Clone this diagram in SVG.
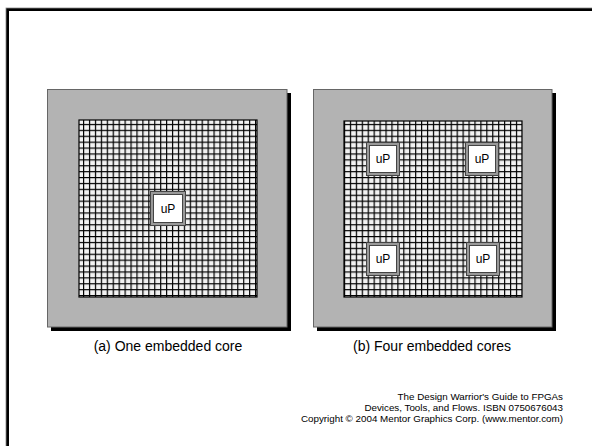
<svg xmlns="http://www.w3.org/2000/svg" width="592" height="446" viewBox="0 0 592 446">
<style>
.cap{font-family:"Liberation Sans",Arial,sans-serif;font-size:14px;fill:#000;text-anchor:middle}
.foot{font-family:"Liberation Sans",Arial,sans-serif;font-size:9.8px;fill:#000;text-anchor:end}
.up{font-family:"Liberation Sans",Arial,sans-serif;font-size:12px;fill:#000;text-anchor:middle}
.board{fill:#b3b3b3;stroke:#666;stroke-width:1}
.shadow{fill:#000}
.grid{fill:url(#cells);stroke:#000;stroke-width:1.2}
.coreo{fill:#999;stroke:#444;stroke-width:1}
.corei{fill:#fff;stroke:#444;stroke-width:1}
</style>
<defs>
<pattern id="cells" x="0" y="0" width="5.93" height="5.9" patternUnits="userSpaceOnUse">
<rect width="6" height="6" fill="#000"/>
<rect x="1.2" y="1.2" width="4.73" height="4.7" fill="#f2f2f2"/>
</pattern>
</defs>
<rect width="592" height="446" fill="#fff"/>
<rect x="7.5" y="9.5" width="600" height="450" fill="none" stroke="#000" stroke-width="3"/>
<rect x="6" y="8" width="600" height="450" fill="none" stroke="#888" stroke-width="0.8"/>

<g id="panel-a">
<rect class="shadow" x="51" y="93" width="240" height="238"/>
<rect class="board" x="47.5" y="89.5" width="239.5" height="237.5"/>
<rect class="grid" x="79" y="120" width="178" height="177"/>
<g id="core-a">
<rect class="coreo" x="150.5" y="191.5" width="35" height="34"/>
<rect class="corei" x="153.5" y="194.5" width="29" height="28"/>
<text class="up" x="168" y="213">uP</text>
</g>
</g>

<g id="panel-b">
<rect class="shadow" x="317" y="93" width="239" height="238"/>
<rect class="board" x="313.5" y="89.5" width="238.5" height="237.5"/>
<rect class="grid" x="344" y="121" width="178" height="176"/>
<g id="core-b1">
<rect class="coreo" x="366.5" y="142.5" width="33" height="33"/>
<rect class="corei" x="369.5" y="145.5" width="27" height="27"/>
<text class="up" x="383" y="163">uP</text>
</g>
<g id="core-b2">
<rect class="coreo" x="465.5" y="142.5" width="33" height="33"/>
<rect class="corei" x="468.5" y="145.5" width="27" height="27"/>
<text class="up" x="482" y="163">uP</text>
</g>
<g id="core-b3">
<rect class="coreo" x="366.5" y="242.5" width="33" height="33"/>
<rect class="corei" x="369.5" y="245.5" width="27" height="27"/>
<text class="up" x="383" y="263">uP</text>
</g>
<g id="core-b4">
<rect class="coreo" x="466.5" y="242.5" width="33" height="33"/>
<rect class="corei" x="469.5" y="245.5" width="27" height="27"/>
<text class="up" x="483" y="263">uP</text>
</g>
</g>

<text class="cap" x="168" y="351">(a) One embedded core</text>
<text class="cap" x="432" y="351">(b) Four embedded cores</text>

<g id="footer">
<text class="foot" x="563" y="400">The Design Warrior's Guide to FPGAs</text>
<text class="foot" x="563" y="411">Devices, Tools, and Flows. ISBN 0750676043</text>
<text class="foot" x="563" y="422">Copyright © 2004 Mentor Graphics Corp. (www.mentor.com)</text>
</g>
</svg>
